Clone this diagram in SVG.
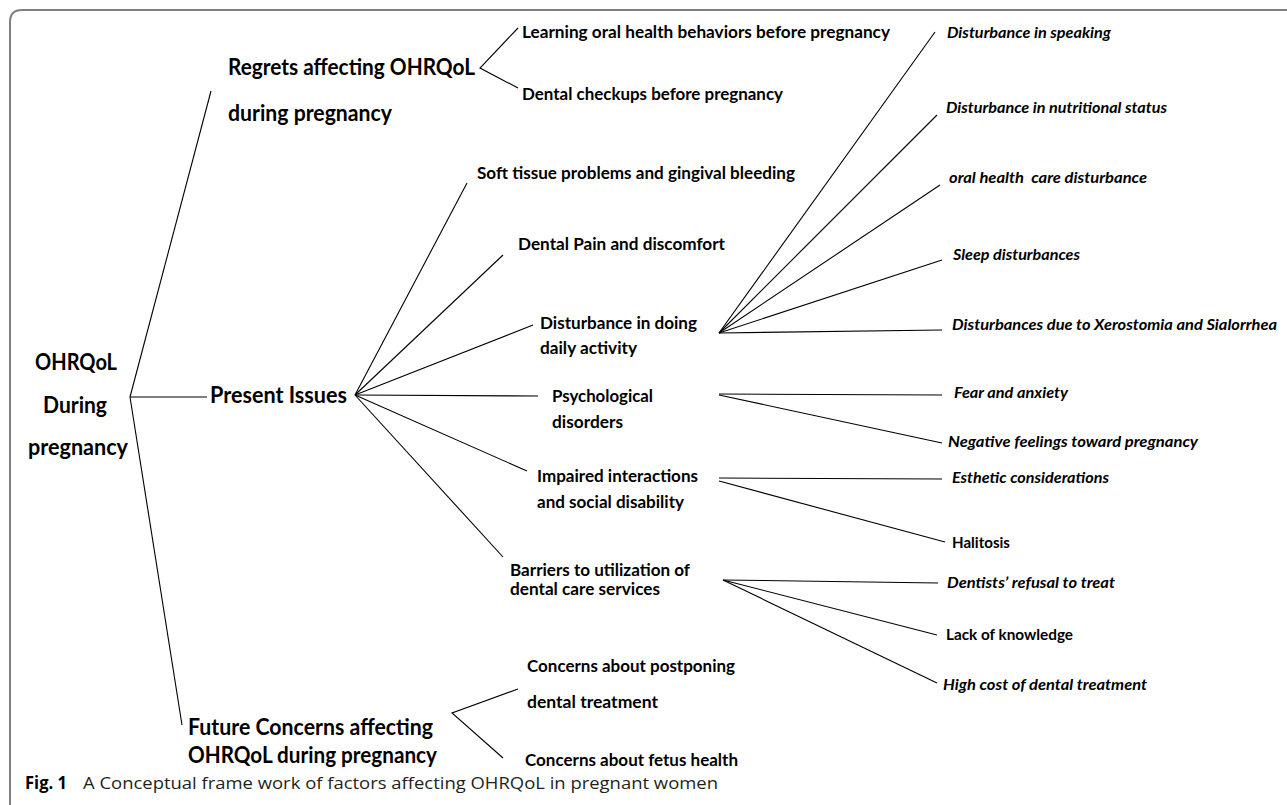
<svg xmlns="http://www.w3.org/2000/svg" width="1287" height="805" viewBox="0 0 1287 805">
<style>
text{font-family:Lato,"Open Sans","Liberation Sans",sans-serif;fill:#000;font-weight:700}
.main{font-size:22px}
.sub{font-size:17px}
.leaf{font-size:15.5px;font-style:italic}
.leafn{font-size:15.5px}
.cap{font-family:"Open Sans","Noto Sans","Liberation Sans",sans-serif;font-size:17px;font-weight:400;fill:#231f20}
.capb{font-family:"Open Sans","Noto Sans","Liberation Sans",sans-serif;font-size:17px;font-weight:700}
#connectors line,#connectors polyline{stroke:#000;stroke-width:1.1;fill:none}
.frame{fill:none;stroke:#7f7f7f;stroke-width:2}
</style>
<rect width="1287" height="805" fill="#fff"/>
<path class="frame" d="M10,805 V22 Q10,10 22,10 H1287"/>
<g id="connectors">
<line x1="130" y1="397" x2="211" y2="91"/>
<line x1="130" y1="397" x2="207" y2="397"/>
<line x1="130" y1="397" x2="182" y2="725"/>
<polyline points="518,28 480,68 518,88"/>
<polyline points="518,689 452,713 503,758"/>
<line x1="355" y1="395" x2="467" y2="183"/>
<line x1="355" y1="395" x2="503" y2="255"/>
<line x1="355" y1="395" x2="533" y2="325"/>
<line x1="355" y1="395" x2="538" y2="396"/>
<line x1="355" y1="395" x2="527" y2="471"/>
<line x1="355" y1="395" x2="503" y2="557"/>
<line x1="719" y1="333" x2="935" y2="32"/>
<line x1="719" y1="333" x2="937" y2="115"/>
<line x1="719" y1="333" x2="940" y2="185"/>
<line x1="719" y1="333" x2="942" y2="260"/>
<line x1="719" y1="333" x2="942" y2="330"/>
<line x1="719" y1="394" x2="942" y2="395"/>
<line x1="719" y1="395" x2="942" y2="443"/>
<line x1="719" y1="478" x2="942" y2="479"/>
<line x1="719" y1="481" x2="945" y2="542"/>
<line x1="723" y1="580" x2="938" y2="583"/>
<line x1="723" y1="580" x2="937" y2="635"/>
<line x1="723" y1="580" x2="937" y2="683"/>
</g>
<g id="root">
<text class="main" x="35" y="370" textLength="82" lengthAdjust="spacingAndGlyphs">OHRQoL</text>
<text class="main" x="43" y="413" textLength="64" lengthAdjust="spacingAndGlyphs">During</text>
<text class="main" x="28" y="455" textLength="100" lengthAdjust="spacingAndGlyphs">pregnancy</text>
</g>
<g id="regrets">
<text class="main" x="228" y="75" textLength="247" lengthAdjust="spacingAndGlyphs">Regrets affecting OHRQoL</text>
<text class="main" x="228" y="121" textLength="164" lengthAdjust="spacingAndGlyphs">during pregnancy</text>
</g>
<g id="learning"><text class="sub" x="522" y="38" textLength="368" lengthAdjust="spacingAndGlyphs">Learning oral health behaviors before pregnancy</text></g>
<g id="checkups"><text class="sub" x="522" y="100" textLength="261" lengthAdjust="spacingAndGlyphs">Dental checkups before pregnancy</text></g>
<g id="present"><text class="main" x="210" y="403" textLength="137" lengthAdjust="spacingAndGlyphs">Present Issues</text></g>
<g id="soft"><text class="sub" x="477" y="179" textLength="318" lengthAdjust="spacingAndGlyphs">Soft tissue problems and gingival bleeding</text></g>
<g id="pain"><text class="sub" x="518" y="250" textLength="207" lengthAdjust="spacingAndGlyphs">Dental Pain and discomfort</text></g>
<g id="daily">
<text class="sub" x="540" y="329" textLength="157" lengthAdjust="spacingAndGlyphs">Disturbance in doing</text>
<text class="sub" x="540" y="354" textLength="97" lengthAdjust="spacingAndGlyphs">daily activity</text>
</g>
<g id="psych">
<text class="sub" x="552" y="402" textLength="101" lengthAdjust="spacingAndGlyphs">Psychological</text>
<text class="sub" x="552" y="428" textLength="71" lengthAdjust="spacingAndGlyphs">disorders</text>
</g>
<g id="impaired">
<text class="sub" x="537" y="482" textLength="161" lengthAdjust="spacingAndGlyphs">Impaired interactions</text>
<text class="sub" x="537" y="508" textLength="147" lengthAdjust="spacingAndGlyphs">and social disability</text>
</g>
<g id="barriers">
<text class="sub" x="510" y="576" textLength="180" lengthAdjust="spacingAndGlyphs">Barriers to utilization of</text>
<text class="sub" x="510" y="595" textLength="150" lengthAdjust="spacingAndGlyphs">dental care services</text>
</g>
<g id="future">
<text class="main" x="188" y="735" textLength="245" lengthAdjust="spacingAndGlyphs">Future Concerns affecting</text>
<text class="main" x="188" y="763" textLength="249" lengthAdjust="spacingAndGlyphs">OHRQoL during pregnancy</text>
</g>
<g id="postponing">
<text class="sub" x="527" y="672" textLength="208" lengthAdjust="spacingAndGlyphs">Concerns about postponing</text>
<text class="sub" x="527" y="708" textLength="131" lengthAdjust="spacingAndGlyphs">dental treatment</text>
</g>
<g id="fetus"><text class="sub" x="525" y="766" textLength="213" lengthAdjust="spacingAndGlyphs">Concerns about fetus health</text></g>
<g id="speaking"><text class="leaf" x="947" y="38" textLength="164" lengthAdjust="spacingAndGlyphs">Disturbance in speaking</text></g>
<g id="nutrition"><text class="leaf" x="946" y="113" textLength="221" lengthAdjust="spacingAndGlyphs">Disturbance in nutritional status</text></g>
<g id="oralcare"><text class="leaf" x="949" y="183" textLength="198" lengthAdjust="spacingAndGlyphs" xml:space="preserve">oral health  care disturbance</text></g>
<g id="sleep"><text class="leaf" x="953" y="260" textLength="127" lengthAdjust="spacingAndGlyphs">Sleep disturbances</text></g>
<g id="xerostomia"><text class="leaf" x="952" y="330" textLength="325" lengthAdjust="spacingAndGlyphs">Disturbances due to Xerostomia and Sialorrhea</text></g>
<g id="fear"><text class="leaf" x="954" y="398" textLength="114" lengthAdjust="spacingAndGlyphs">Fear and anxiety</text></g>
<g id="negative"><text class="leaf" x="948" y="447" textLength="250" lengthAdjust="spacingAndGlyphs">Negative feelings toward pregnancy</text></g>
<g id="esthetic"><text class="leaf" x="952" y="483" textLength="157" lengthAdjust="spacingAndGlyphs">Esthetic considerations</text></g>
<g id="halitosis"><text class="leafn" x="952" y="548" textLength="58" lengthAdjust="spacingAndGlyphs">Halitosis</text></g>
<g id="refusal"><text class="leaf" x="947" y="588" textLength="168" lengthAdjust="spacingAndGlyphs">Dentists’ refusal to treat</text></g>
<g id="knowledge"><text class="leafn" x="946" y="640" textLength="127" lengthAdjust="spacingAndGlyphs">Lack of knowledge</text></g>
<g id="cost"><text class="leaf" x="943" y="690" textLength="204" lengthAdjust="spacingAndGlyphs">High cost of dental treatment</text></g>
<g id="caption">
<text class="capb" x="25" y="789" textLength="42" lengthAdjust="spacingAndGlyphs">Fig. 1</text>
<text class="cap" x="83" y="789" textLength="635" lengthAdjust="spacingAndGlyphs">A Conceptual frame work of factors affecting OHRQoL in pregnant women</text>
</g>
</svg>
